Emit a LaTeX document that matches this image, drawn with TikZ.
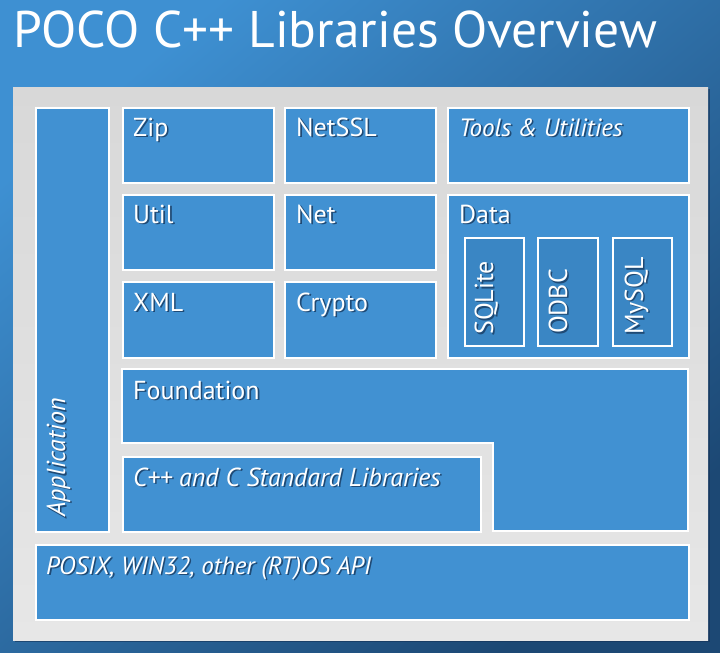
\documentclass[tikz,border=0pt]{standalone}
\usepackage{fontspec}
\setmainfont{PT Sans}
\definecolor{bgA}{RGB}{62,144,210}
\definecolor{bgB}{RGB}{46,110,166}
\definecolor{bgDark}{RGB}{28,72,116}
\definecolor{panelA}{RGB}{216,216,216}
\definecolor{panelB}{RGB}{231,231,231}
\definecolor{boxc}{RGB}{65,145,210}
\definecolor{subc}{RGB}{58,134,196}
\definecolor{shadowc}{RGB}{20,50,86}
\definecolor{txtshadow}{RGB}{31,74,117}
\newcommand\lblfont{\fontsize{26}{30}\selectfont}
\newcommand\titlefont{\fontsize{51.5}{58}\selectfont}
% text with a drop shadow, in one box: \shtext{dx}{dy}{text}
\newcommand\shtext[3]{\makebox[0pt][l]{\hspace*{#1}\raisebox{#2}{\color{txtshadow}#3}}#3}
\newcommand\sh[1]{\shtext{1.6pt}{-1.6pt}{#1}}
\newcommand\shr[1]{\shtext{-1.6pt}{-1.6pt}{#1}}
\tikzset{
  box/.style={fill=boxc, draw=white, line width=1.6pt, inner sep=0pt, anchor=north west},
  subbox/.style={box, fill=subc},
  lbl/.style={text=white, inner sep=0pt, anchor=base west, font=\lblfont},
  lbli/.style={lbl, font=\lblfont\itshape},
}
\begin{document}
\begin{tikzpicture}[x=1pt,y=-1pt]
\useasboundingbox (0,0) rectangle (720,653);
% background
\shade[top color=bgA, middle color=bgB, bottom color=bgDark, shading angle=40]
  (0,0) rectangle (720,653);
% title
\node[text=white, font=\titlefont, inner sep=0pt, anchor=base west] (title) at (13,47)
  {POCO C++ Libraries Overview};
% panel with shadow
\fill[shadowc, opacity=0.6] (15,89) rectangle (710,642);
\shade[top color=panelA, bottom color=panelB] (13,87) rectangle (708,640);
% boxes
\node[box, minimum width=73, minimum height=424] (app) at (35,107) {};
\node[box, minimum width=151, minimum height=75] (zip) at (122,107) {};
\node[box, minimum width=151, minimum height=75] (netssl) at (284,107) {};
\node[box, minimum width=241, minimum height=75] (tools) at (447,107) {};
\node[box, minimum width=151, minimum height=75] (util) at (122,194) {};
\node[box, minimum width=151, minimum height=75] (net) at (284,194) {};
\node[box, minimum width=241, minimum height=163] (data) at (447,194) {};
\node[box, minimum width=151, minimum height=76] (xml) at (122,281) {};
\node[box, minimum width=151, minimum height=76] (crypto) at (284,281) {};
\node[subbox, minimum width=59, minimum height=108] (sqlite) at (464,237) {};
\node[subbox, minimum width=60, minimum height=108] (odbc) at (537,237) {};
\node[subbox, minimum width=59, minimum height=108] (mysql) at (612,237) {};
\filldraw[fill=boxc, draw=white, line width=1.6pt]
  (122,369) -- (688,369) -- (688,531) -- (493,531) -- (493,443) -- (122,443) -- cycle;
\coordinate (foundation) at (122,369);
\node[box, minimum width=358, minimum height=75] (cpp) at (122,456) {};
\node[box, minimum width=653, minimum height=75] (posix) at (35,544) {};
% labels
\node[lbl] (tzip) at (133,136) {\sh{Zip}};
\node[lbl] (tnetssl) at (296,136) {\sh{NetSSL}};
\node[lbli, font=\fontsize{25}{30}\selectfont\itshape] (ttools) at (459,136) {\sh{Tools \& Utilities}};
\node[lbl] (tutil) at (133,223) {\sh{Util}};
\node[lbl] (tnet) at (296,223) {\sh{Net}};
\node[lbl] (tdata) at (459,223) {\sh{Data}};
\node[lbl] (txml) at (133,311) {\sh{XML}};
\node[lbl] (tcrypto) at (296,311) {\sh{Crypto}};
\node[lbl] (tfound) at (133,399) {\sh{Foundation}};
\node[lbli] (tcpp) at (133,486) {\sh{C++ and C Standard Libraries}};
\node[lbli, font=\fontsize{25}{30}\selectfont\itshape] (tposix) at (46,574) {\sh{POSIX, WIN32, other (RT)OS API}};
\node[lbli, rotate=90] (tapp) at (65,517) {\shr{Application}};
\node[lbl, rotate=90] (tsqlite) at (493,335) {\shr{SQLite}};
\node[lbl, rotate=90] (todbc) at (567,334) {\shr{ODBC}};
\node[lbl, rotate=90] (tmysql) at (643,335) {\shr{MySQL}};
\end{tikzpicture}
\end{document}
